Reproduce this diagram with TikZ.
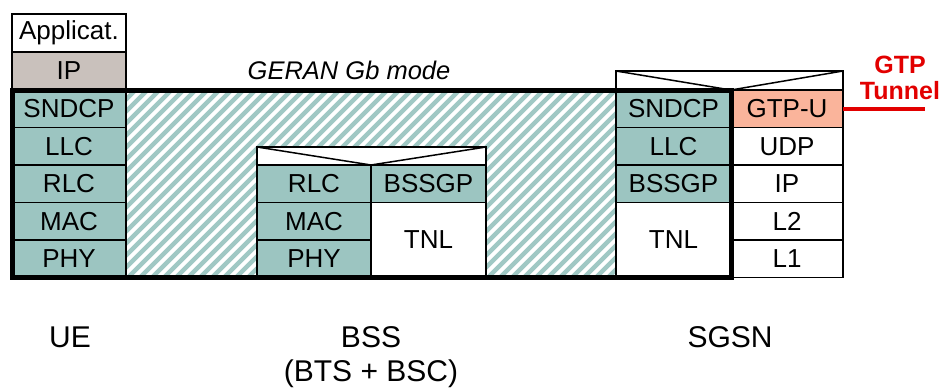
\documentclass[tikz,border=0pt]{standalone}
\usepackage{fontspec}
\setmainfont{Liberation Sans}
\usetikzlibrary{positioning}
\definecolor{layerteal}{RGB}{156,197,193}
\definecolor{hatchteal}{RGB}{160,200,196}
\definecolor{ipgrey}{RGB}{201,193,188}
\definecolor{gtpsalmon}{RGB}{250,180,155}
\definecolor{tunnelred}{RGB}{226,0,0}

\begin{document}
\begin{tikzpicture}[x=1pt,y=-1pt]
  \tikzstyle{layer}=[draw,line width=1.5pt,inner sep=0pt,outer sep=0pt,minimum width=114pt,minimum height=37.5pt,font=\fontsize{26}{26}\selectfont]
  \tikzstyle{tnl}=[layer,fill=white,minimum height=75pt]
  \tikzstyle{capbox}=[draw,line width=1.5pt,fill=white,inner sep=0pt,outer sep=0pt,anchor=south west]
  \tikzstyle{entity}=[font=\fontsize{30}{36}\selectfont]
  \useasboundingbox (0,0) rectangle (944,391);
  % hatched area
  \begin{scope}
    \clip (126,90) rectangle (731,277.5);
    \foreach \k in {0,...,72} {
      \draw[hatchteal,line width=4.4pt] (\k*12-100,277.5) -- ++(200,-200);
    }
  \end{scope}
  % UE
  \node[layer,minimum height=38pt] (appue) at (69,33) {Applicat.};
  \node[layer,fill=ipgrey,minimum height=38pt,below=0pt of appue] (ipue) {IP};
  \node[layer,fill=layerteal,below=0pt of ipue] (sndcpue) {SNDCP};
  \node[layer,fill=layerteal,below=0pt of sndcpue] (llcue) {LLC};
  \node[layer,fill=layerteal,below=0pt of llcue] (rlcue) {RLC};
  \node[layer,fill=layerteal,below=0pt of rlcue] (macue) {MAC};
  \node[layer,fill=layerteal,below=0pt of macue] (phyue) {PHY};
  % BSS
  \node[layer,fill=layerteal] (rlcbss) at (314,183.75) {RLC};
  \node[layer,fill=layerteal,below=0pt of rlcbss] (macbss) {MAC};
  \node[layer,fill=layerteal,below=0pt of macbss] (phybss) {PHY};
  \node[layer,fill=layerteal,minimum width=115pt,right=0pt of rlcbss] (bssgpbss) {BSSGP};
  \node[tnl,minimum width=115pt,below=0pt of bssgpbss] (tnlbss) {TNL};
  \node[capbox,minimum width=229pt,minimum height=18pt] (capbss) at (rlcbss.north west) {};
  \draw[line width=1.5pt] (capbss.north west) -- (rlcbss.north east) -- (capbss.north east);
  % SGSN
  \node[layer,fill=layerteal,minimum width=115pt] (sndcpsgsn) at (673.5,108.75) {SNDCP};
  \node[layer,fill=layerteal,minimum width=115pt,below=0pt of sndcpsgsn] (llcsgsn) {LLC};
  \node[layer,fill=layerteal,minimum width=115pt,below=0pt of llcsgsn] (bssgpsgsn) {BSSGP};
  \node[tnl,minimum width=115pt,below=0pt of bssgpsgsn] (tnlsgsn) {TNL};
  \node[layer,fill=gtpsalmon,minimum width=112pt,right=0pt of sndcpsgsn] (gtpu) {GTP-U};
  \node[layer,minimum width=112pt,below=0pt of gtpu] (udp) {UDP};
  \node[layer,minimum width=112pt,below=0pt of udp] (ipsgsn) {IP};
  \node[layer,minimum width=112pt,below=0pt of ipsgsn] (l2) {L2};
  \node[layer,minimum width=112pt,below=0pt of l2] (l1) {L1};
  \node[capbox,minimum width=227pt,minimum height=19pt] (capsgsn) at (sndcpsgsn.north west) {};
  \draw[line width=1.5pt] (capsgsn.north west) -- (sndcpsgsn.north east) -- (capsgsn.north east);
  % Gb mode frame
  \draw[line width=5pt] (sndcpue.north west) rectangle (tnlsgsn.south east);
  \node[font=\itshape\fontsize{25.5}{25.5}\selectfont] (geran) at (349,70) {GERAN Gb mode};
  % GTP tunnel
  \node[text=tunnelred,font=\bfseries\fontsize{25}{26}\selectfont,align=center] (gtptun) at (900,78) {GTP\\Tunnel};
  \coordinate (tunend) at (925,108.75);
  \draw[tunnelred,line width=4pt] (gtpu.east) -- (tunend);
  % entities
  \node[entity] (ue) at (70,337) {UE};
  \node[entity] (bss) at (371,337) {BSS};
  \node[entity] (btsbsc) at (371,374) {(BTS + BSC)};
  \node[entity] (sgsn) at (730,337) {SGSN};
\end{tikzpicture}
\end{document}
